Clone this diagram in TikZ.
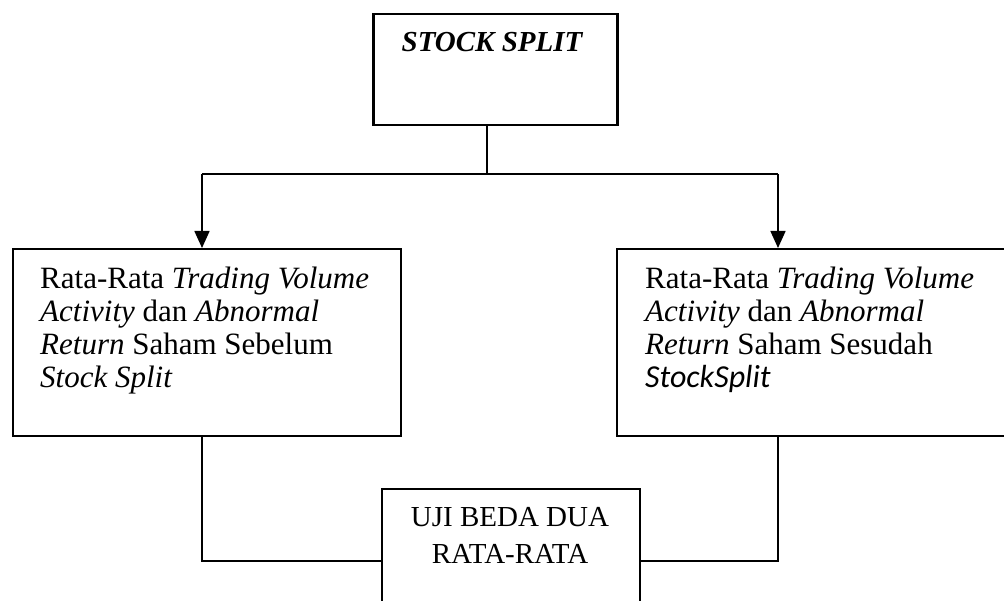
\documentclass[tikz,border=0pt]{standalone}
\usepackage{fontspec}
\setmainfont{Liberation Serif}
\newfontfamily\calibrifont{Carlito}
\usetikzlibrary{arrows.meta}
\begin{document}
\begin{tikzpicture}[x=1pt,y=-1pt,
  box/.style={draw, line width=1.8pt, inner sep=0pt, anchor=north west},
  conn/.style={line width=1.6pt},
  arr/.style={conn, -{Triangle[length=17pt,width=15pt]}},
  txt/.style={inner sep=0pt, align=left, anchor=north west, font=\fontsize{31}{33}\selectfont}
]
\useasboundingbox (0,0) rectangle (1004,601);
% boxes
\node[box, line width=2.5pt, minimum width=244pt, minimum height=111pt] (top) at (372,13) {};
\node[inner sep=0pt, anchor=base, font=\fontsize{29}{36}\selectfont\bfseries\itshape] (title) at (492,52) {STOCK SPLIT};
\node[box, minimum width=388pt, minimum height=187pt] (L) at (12,248) {};
\node[txt] (Ltxt) at (40,267) {Rata-Rata \textit{Trading Volume}\\ \textit{Activity} dan \textit{Abnormal}\\ \textit{Return} Saham Sebelum\\ \textit{Stock Split}};
\node[box, minimum width=388pt, minimum height=187pt] (R) at (616,248) {};
\node[txt] (Rtxt) at (645,267) {Rata-Rata \textit{Trading Volume}\\ \textit{Activity} dan \textit{Abnormal}\\ \textit{Return} Saham Sesudah\\ {\calibrifont\itshape\fontsize{32}{33}\selectfont StockSplit}};
\node[box, minimum width=258pt, minimum height=160pt] (B) at (381,488) {};
\node[inner sep=0pt, anchor=north, align=center, font=\fontsize{29}{37}\selectfont] (Btxt) at (510,507) {UJI BEDA DUA\\RATA-RATA};
% connectors
\coordinate (j) at (487,174);
\coordinate (jl) at (202,174);
\coordinate (jr) at (778,174);
\coordinate (ml) at (202,561);
\coordinate (mr) at (778,561);
\draw[conn] (top.south -| j) -- (j);
\draw[conn] (jl) -- (jr);
\draw[arr] (jl) -- (jl |- L.north);
\draw[arr] (jr) -- (jr |- R.north);
\draw[conn] (ml |- L.south) -- (ml) -- (ml -| B.west);
\draw[conn] (mr |- R.south) -- (mr) -- (mr -| B.east);
\end{tikzpicture}
\end{document}
